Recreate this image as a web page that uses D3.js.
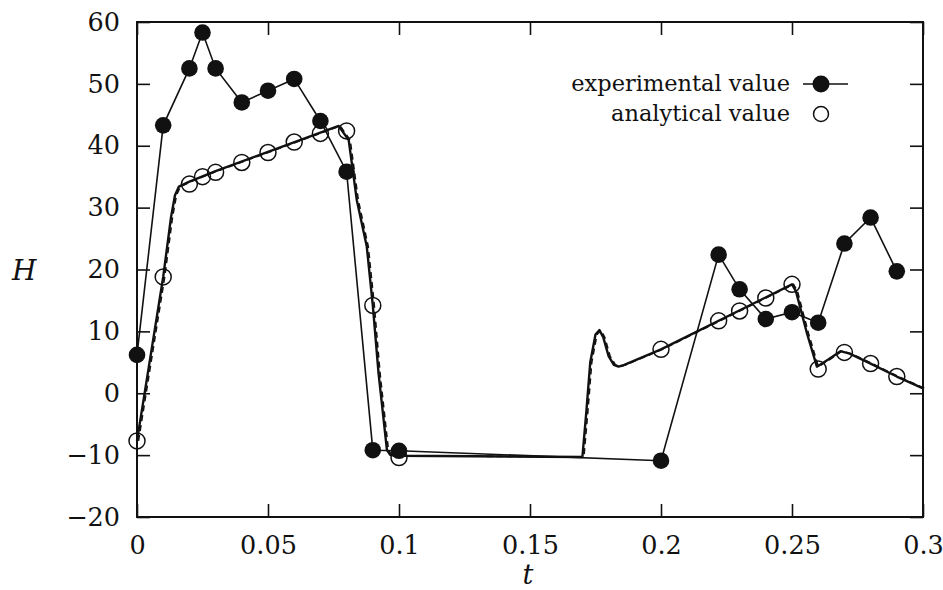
<!DOCTYPE html>
<html>
<head>
<meta charset="utf-8">
<script src="https://cdn.jsdelivr.net/npm/d3@7"></script>
<style>
  body { margin: 0; background: #fff; }
</style>
</head>
<body>
<div class="chart"></div>
<script>
// experimental points (filled circles joined by a thin line)
var expT = [0, 0.01, 0.02, 0.025, 0.03, 0.04, 0.05, 0.06, 0.07, 0.08, 0.09, 0.1, 0.2, 0.222, 0.23, 0.24, 0.25, 0.26, 0.27, 0.28, 0.29];
var expH = [6.2, 43.3, 52.5, 58.3, 52.5, 47.0, 48.9, 50.8, 44.0, 35.8, -9.2, -9.3, -10.9, 22.4, 16.8, 12.0, 13.1, 11.4, 24.2, 28.4, 19.7];

// analytical points (open circles)
var anaT = [0, 0.01, 0.02, 0.025, 0.03, 0.04, 0.05, 0.06, 0.07, 0.08, 0.09, 0.1, 0.2, 0.222, 0.23, 0.24, 0.25, 0.26, 0.27, 0.28, 0.29];
var anaH = [-7.7, 18.8, 33.8, 35.0, 35.7, 37.3, 38.9, 40.6, 42.0, 42.4, 14.2, -10.4, 7.1, 11.7, 13.3, 15.4, 17.6, 3.9, 6.6, 4.8, 2.7];

// continuous analytical curve (thick line)
var curveT = [0, 0.01, 0.013, 0.0145, 0.016, 0.02, 0.03, 0.05, 0.077, 0.0808, 0.0839, 0.0877, 0.09, 0.0922, 0.0954, 0.0967, 0.1, 0.17, 0.1715, 0.173, 0.175, 0.1765, 0.178, 0.18, 0.182, 0.1838, 0.186, 0.2, 0.25, 0.2515, 0.2557, 0.2595, 0.264, 0.2685, 0.272, 0.28, 0.29, 0.3];
var curveH = [-7.7, 18.8, 28.5, 32, 33.4, 34.2, 35.9, 39.0, 43.2, 40.9, 31.2, 23.7, 14.2, 3.2, -9.2, -10.0, -10.1, -10.3, -3, 5, 9.5, 10.2, 9, 6, 4.6, 4.3, 4.6, 7.1, 17.6, 16.5, 9.7, 4.3, 5.5, 6.8, 6.4, 4.8, 2.7, 0.8];

var xTicks = [0, 0.05, 0.1, 0.15, 0.2, 0.25, 0.3];
var yTicks = [-20, -10, 0, 10, 20, 30, 40, 50, 60];
var legendLabels = ["experimental value", "analytical value"];

var FONT = "'DejaVu Serif', 'Liberation Serif', serif";

var svgWidth = 943;
var svgHeight = 590;
var margin = { top: 22, right: 20, bottom: 73, left: 137 };
var width = 923 - margin.left;
var height = 517 - margin.top;

var svg = d3.select(".chart")
    .append("svg")
    .attr("width", svgWidth)
    .attr("height", svgHeight)
    .attr("font-family", FONT)
    .style("font-family", FONT);

var chartGroup = svg.append("g")
    .attr("transform", `translate(${margin.left}, ${margin.top})`);

var xScale = d3.scaleLinear().domain([0, 0.3]).range([0, width]);
var yScale = d3.scaleLinear().domain([-20, 60]).range([height, 0]);

var fmtX = d => String(+d.toFixed(2));
var fmtY = d => d < 0 ? "\u2212" + Math.abs(d) : String(d);

function styleAxis(g, hideText) {
    g.attr("font-family", FONT);
    g.select(".domain").remove();
    g.selectAll(".tick line").attr("stroke", "#111").attr("stroke-width", 1.6);
    g.selectAll(".tick text")
        .style("font-family", FONT)
        .style("font-size", "25.5px")
        .attr("fill", "#111");
    if (hideText) g.selectAll(".tick text").remove();
}

// axes with inward ticks on all sides
chartGroup.append("g")
    .attr("transform", `translate(0, ${height})`)
    .call(d3.axisBottom(xScale).tickValues(xTicks).tickFormat(fmtX).tickSizeInner(-13).tickSizeOuter(0).tickPadding(19))
    .call(g => styleAxis(g, false));

chartGroup.append("g")
    .call(d3.axisTop(xScale).tickValues(xTicks).tickSizeInner(-13).tickSizeOuter(0))
    .call(g => styleAxis(g, true));

chartGroup.append("g")
    .call(d3.axisLeft(yScale).tickValues(yTicks).tickFormat(fmtY).tickSizeInner(-13).tickSizeOuter(0).tickPadding(17))
    .call(g => styleAxis(g, false));

chartGroup.append("g")
    .attr("transform", `translate(${width}, 0)`)
    .call(d3.axisRight(yScale).tickValues(yTicks).tickSizeInner(-13).tickSizeOuter(0))
    .call(g => styleAxis(g, true));

// frame
chartGroup.append("rect")
    .attr("width", width)
    .attr("height", height)
    .attr("fill", "none")
    .attr("stroke", "#111")
    .attr("stroke-width", 2);

var curveData = curveT.map((t, i) => ({ t: t, h: curveH[i] }));
var expData = expT.map((t, i) => ({ t: t, h: expH[i] }));
var anaData = anaT.map((t, i) => ({ t: t, h: anaH[i] }));

var line = d3.line().x(d => xScale(d.t)).y(d => yScale(d.h));

// analytical curve: solid with a dashed trace on top
chartGroup.append("path")
    .datum(curveData)
    .attr("d", line)
    .attr("fill", "none")
    .attr("stroke", "#111")
    .attr("stroke-width", 2.4)
    .attr("stroke-linejoin", "round");

chartGroup.append("path")
    .datum(curveData)
    .attr("d", line)
    .attr("transform", "translate(1.5, 0)")
    .attr("fill", "none")
    .attr("stroke", "#111")
    .attr("stroke-width", 1.6)
    .attr("stroke-dasharray", "6,4");

// experimental line
chartGroup.append("path")
    .datum(expData)
    .attr("d", line)
    .attr("fill", "none")
    .attr("stroke", "#111")
    .attr("stroke-width", 1.6);

// open circles
chartGroup.selectAll(".ana")
    .data(anaData)
    .enter()
    .append("circle")
    .attr("class", "ana")
    .attr("cx", d => xScale(d.t))
    .attr("cy", d => yScale(d.h))
    .attr("r", 8)
    .attr("fill", "none")
    .attr("stroke", "#111")
    .attr("stroke-width", 1.5);

// filled circles
chartGroup.selectAll(".exp")
    .data(expData)
    .enter()
    .append("circle")
    .attr("class", "exp")
    .attr("cx", d => xScale(d.t))
    .attr("cy", d => yScale(d.h))
    .attr("r", 8.3)
    .attr("fill", "#111");

// legend
var legend = svg.append("g");
legend.append("text")
    .attr("x", 790).attr("y", 91)
    .style("text-anchor", "end")
    .style("font-family", FONT)
    .style("font-size", "22.5px")
    .attr("fill", "#111")
    .text(legendLabels[0]);
legend.append("line")
    .attr("x1", 803).attr("x2", 848)
    .attr("y1", 84).attr("y2", 84)
    .attr("stroke", "#111").attr("stroke-width", 1.6);
legend.append("circle")
    .attr("cx", 821).attr("cy", 84).attr("r", 8.5).attr("fill", "#111");
legend.append("text")
    .attr("x", 790).attr("y", 121)
    .style("text-anchor", "end")
    .style("font-family", FONT)
    .style("font-size", "22.5px")
    .attr("fill", "#111")
    .text(legendLabels[1]);
legend.append("circle")
    .attr("cx", 821).attr("cy", 114).attr("r", 7.5)
    .attr("fill", "none").attr("stroke", "#111").attr("stroke-width", 1.5);

// axis titles
svg.append("text")
    .attr("x", 12).attr("y", 280)
    .style("font-family", FONT)
    .style("font-size", "28px")
    .style("font-style", "italic")
    .attr("fill", "#111")
    .text("H");

svg.append("text")
    .attr("x", 528).attr("y", 584)
    .style("text-anchor", "middle")
    .style("font-family", FONT)
    .style("font-size", "27px")
    .style("font-style", "italic")
    .attr("fill", "#111")
    .text("t");
</script>
</body>
</html>
